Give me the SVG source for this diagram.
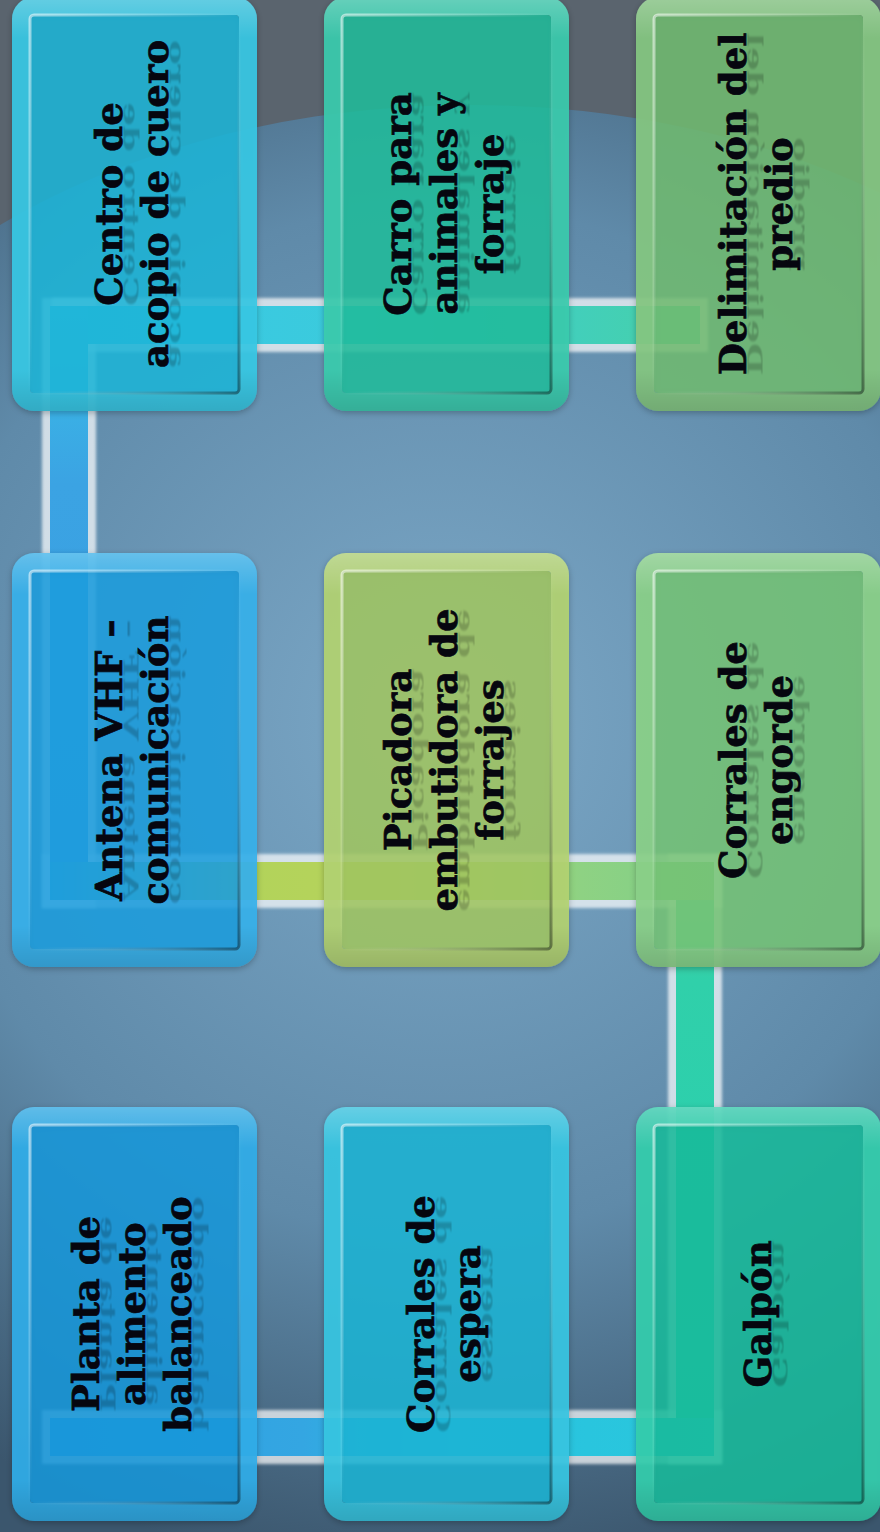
<svg xmlns="http://www.w3.org/2000/svg" xmlns:xlink="http://www.w3.org/1999/xlink" width="880" height="1532" viewBox="0 0 880 1532">
<defs>
<style>
.t{font-family:"DejaVu Serif","Liberation Serif",serif;font-weight:bold;font-size:37px;fill:#06060f;stroke:#06060f;stroke-width:.7;text-anchor:middle}
.r{font-family:"DejaVu Serif","Liberation Serif",serif;font-weight:bold;font-size:37px;fill:#000;fill-opacity:.2;text-anchor:middle;filter:url(#blur)}
.fillin{fill-opacity:.88}
.rimc{fill-opacity:.92}
.edge{fill:#ffffff;fill-opacity:.7;filter:url(#soft)}
</style>
<radialGradient id="bg" gradientUnits="userSpaceOnUse" cx="440" cy="720" r="860">
<stop offset="0" stop-color="#7ca8c7"/>
<stop offset="0.6" stop-color="#5f8aa9"/>
<stop offset="1" stop-color="#3b566d"/>
</radialGradient>
<linearGradient id="bev" x1="0" y1="0" x2="1" y2="1">
<stop offset="0" stop-color="#ffffff" stop-opacity=".55"/>
<stop offset=".5" stop-color="#ffffff" stop-opacity="0"/>
<stop offset="1" stop-color="#000000" stop-opacity=".4"/>
</linearGradient>
<linearGradient id="rimShade" x1="0" y1="0" x2="0" y2="1">
<stop offset="0" stop-color="#ffffff" stop-opacity=".22"/>
<stop offset=".1" stop-color="#ffffff" stop-opacity="0"/>
<stop offset=".9" stop-color="#000000" stop-opacity="0"/>
<stop offset="1" stop-color="#000000" stop-opacity=".12"/>
</linearGradient>
<linearGradient id="gA" gradientUnits="userSpaceOnUse" x1="60" y1="0" x2="700" y2="0">
<stop offset="0" stop-color="#37c6e8"/>
<stop offset=".45" stop-color="#3bcbdc"/>
<stop offset="1" stop-color="#46d1a8"/>
</linearGradient>
<linearGradient id="gB" gradientUnits="userSpaceOnUse" x1="0" y1="306" x2="0" y2="900">
<stop offset="0" stop-color="#39c2e8"/>
<stop offset=".3" stop-color="#3ba3e3"/>
<stop offset="1" stop-color="#389ee0"/>
</linearGradient>
<linearGradient id="gC" gradientUnits="userSpaceOnUse" x1="50" y1="0" x2="714" y2="0">
<stop offset="0" stop-color="#36a8d8"/>
<stop offset=".28" stop-color="#b2d35a"/>
<stop offset=".5" stop-color="#b6d35c"/>
<stop offset=".8" stop-color="#8ed283"/>
<stop offset="1" stop-color="#80cf88"/>
</linearGradient>
<linearGradient id="gD" gradientUnits="userSpaceOnUse" x1="0" y1="862" x2="0" y2="1456">
<stop offset="0" stop-color="#5fd29c"/>
<stop offset=".2" stop-color="#30d0aa"/>
<stop offset="1" stop-color="#26ceb2"/>
</linearGradient>
<linearGradient id="gE" gradientUnits="userSpaceOnUse" x1="50" y1="0" x2="714" y2="0">
<stop offset="0" stop-color="#2a9ee2"/>
<stop offset=".38" stop-color="#34a6e2"/>
<stop offset=".62" stop-color="#28c2e0"/>
<stop offset="1" stop-color="#2ac8dc"/>
</linearGradient>
<filter id="soft" x="-10%" y="-10%" width="120%" height="120%">
<feGaussianBlur stdDeviation="1.4"/>
</filter>
<filter id="blur" x="-5%" y="-20%" width="110%" height="140%">
<feGaussianBlur stdDeviation="0.8"/>
</filter>
<filter id="sh" x="-10%" y="-10%" width="120%" height="120%">
<feDropShadow dx="0" dy="2" stdDeviation="3" flood-color="#000" flood-opacity=".28"/>
</filter>
<path id="rim" fill-rule="evenodd" d="M22 0 H223 A22 22 0 0 1 245 22 V392 A22 22 0 0 1 223 414 H22 A22 22 0 0 1 0 392 V22 A22 22 0 0 1 22 0 Z M22 18 H223 A4 4 0 0 1 227 22 V392 A4 4 0 0 1 223 396 H22 A4 4 0 0 1 18 392 V22 A4 4 0 0 1 22 18 Z"/>
<rect id="in" x="18" y="18" width="209" height="378" rx="4"/>
</defs>

<g id="background">
<rect x="0" y="0" width="880" height="1532" fill="url(#bg)"/>
<path d="M0 0 H880 V193 A720 495 0 0 0 0 225 Z" fill="#5a646e"/>
</g>

<g id="connectors">
<rect class="edge" x="52" y="298" width="656" height="54"/>
<rect class="edge" x="42" y="298" width="54" height="610"/>
<rect class="edge" x="42" y="854" width="680" height="54"/>
<rect class="edge" x="668" y="854" width="54" height="610"/>
<rect class="edge" x="42" y="1410" width="680" height="54"/>
<rect x="60" y="306" width="640" height="38" fill="url(#gA)"/>
<rect x="50" y="306" width="38" height="594" fill="url(#gB)"/>
<rect x="676" y="862" width="38" height="594" fill="url(#gD)"/>
<rect x="50" y="862" width="664" height="38" fill="url(#gC)"/>
<rect x="50" y="1418" width="664" height="38" fill="url(#gE)"/>
</g>

<g id="n1" transform="translate(12,-3)">
<use href="#rim" class="rimc" fill="#38c8e4" filter="url(#sh)"/>
<use href="#rim" fill="url(#rimShade)"/>
<use href="#in" class="fillin" fill="#1db4d6"/>
<use href="#in" fill="none" stroke="url(#bev)" stroke-width="3"/>
<g transform="translate(122.5,207) rotate(-90)">
<text class="r" transform="translate(0,-11) scale(1,-0.55)">Centro de</text>
<text class="r" transform="translate(0,35) scale(1,-0.55)">acopio de cuero</text>
<text class="t"><tspan x="0" y="-13">Centro de</tspan><tspan x="0" y="33">acopio de cuero</tspan></text>
</g>
</g>

<g id="n2" transform="translate(324,-3)">
<use href="#rim" class="rimc" fill="#3acbad" filter="url(#sh)"/>
<use href="#rim" fill="url(#rimShade)"/>
<use href="#in" class="fillin" fill="#20bb9a"/>
<use href="#in" fill="none" stroke="url(#bev)" stroke-width="3"/>
<g transform="translate(122.5,207) rotate(-90)">
<text class="r" transform="translate(0,-34) scale(1,-0.55)">Carro para</text>
<text class="r" transform="translate(0,12) scale(1,-0.55)">animales y</text>
<text class="r" transform="translate(0,58) scale(1,-0.55)">forraje</text>
<text class="t"><tspan x="0" y="-36">Carro para</tspan><tspan x="0" y="10">animales y</tspan><tspan x="0" y="56">forraje</tspan></text>
</g>
</g>

<g id="n3" transform="translate(636,-3)">
<use href="#rim" class="rimc" fill="#84c781" filter="url(#sh)"/>
<use href="#rim" fill="url(#rimShade)"/>
<use href="#in" class="fillin" fill="#70ba70"/>
<use href="#in" fill="none" stroke="url(#bev)" stroke-width="3"/>
<g transform="translate(122.5,207) rotate(-90)">
<text class="r" transform="translate(0,-11) scale(1,-0.55)">Delimitación del</text>
<text class="r" transform="translate(0,35) scale(1,-0.55)">predio</text>
<text class="t"><tspan x="0" y="-13">Delimitación del</tspan><tspan x="0" y="33">predio</tspan></text>
</g>
</g>

<g id="n4" transform="translate(12,553)">
<use href="#rim" class="rimc" fill="#36b1ea" filter="url(#sh)"/>
<use href="#rim" fill="url(#rimShade)"/>
<use href="#in" class="fillin" fill="#1b9cdc"/>
<use href="#in" fill="none" stroke="url(#bev)" stroke-width="3"/>
<g transform="translate(122.5,207) rotate(-90)">
<text class="r" transform="translate(0,-11) scale(1,-0.55)">Antena VHF –</text>
<text class="r" transform="translate(0,35) scale(1,-0.55)">comunicación</text>
<text class="t"><tspan x="0" y="-13">Antena VHF –</tspan><tspan x="0" y="33">comunicación</tspan></text>
</g>
</g>

<g id="n5" transform="translate(324,553)">
<use href="#rim" class="rimc" fill="#b2d372" filter="url(#sh)"/>
<use href="#rim" fill="url(#rimShade)"/>
<use href="#in" class="fillin" fill="#9fc460"/>
<use href="#in" fill="none" stroke="url(#bev)" stroke-width="3"/>
<g transform="translate(122.5,207) rotate(-90)">
<text class="r" transform="translate(0,-34) scale(1,-0.55)">Picadora</text>
<text class="r" transform="translate(0,12) scale(1,-0.55)">embutidora de</text>
<text class="r" transform="translate(0,58) scale(1,-0.55)">forrajes</text>
<text class="t"><tspan x="0" y="-36">Picadora</tspan><tspan x="0" y="10">embutidora de</tspan><tspan x="0" y="56">forrajes</tspan></text>
</g>
</g>

<g id="n6" transform="translate(636,553)">
<use href="#rim" class="rimc" fill="#8ad088" filter="url(#sh)"/>
<use href="#rim" fill="url(#rimShade)"/>
<use href="#in" class="fillin" fill="#74c174"/>
<use href="#in" fill="none" stroke="url(#bev)" stroke-width="3"/>
<g transform="translate(122.5,207) rotate(-90)">
<text class="r" transform="translate(0,-11) scale(1,-0.55)">Corrales de</text>
<text class="r" transform="translate(0,35) scale(1,-0.55)">engorde</text>
<text class="t"><tspan x="0" y="-13">Corrales de</tspan><tspan x="0" y="33">engorde</tspan></text>
</g>
</g>

<g id="n7" transform="translate(12,1107)">
<use href="#rim" class="rimc" fill="#30ace8" filter="url(#sh)"/>
<use href="#rim" fill="url(#rimShade)"/>
<use href="#in" class="fillin" fill="#1796d8"/>
<use href="#in" fill="none" stroke="url(#bev)" stroke-width="3"/>
<g transform="translate(122.5,207) rotate(-90)">
<text class="r" transform="translate(0,-34) scale(1,-0.55)">Planta de</text>
<text class="r" transform="translate(0,12) scale(1,-0.55)">alimento</text>
<text class="r" transform="translate(0,58) scale(1,-0.55)">balanceado</text>
<text class="t"><tspan x="0" y="-36">Planta de</tspan><tspan x="0" y="10">alimento</tspan><tspan x="0" y="56">balanceado</tspan></text>
</g>
</g>

<g id="n8" transform="translate(324,1107)">
<use href="#rim" class="rimc" fill="#38c6e2" filter="url(#sh)"/>
<use href="#rim" fill="url(#rimShade)"/>
<use href="#in" class="fillin" fill="#1bb3d3"/>
<use href="#in" fill="none" stroke="url(#bev)" stroke-width="3"/>
<g transform="translate(122.5,207) rotate(-90)">
<text class="r" transform="translate(0,-11) scale(1,-0.55)">Corrales de</text>
<text class="r" transform="translate(0,35) scale(1,-0.55)">espera</text>
<text class="t"><tspan x="0" y="-13">Corrales de</tspan><tspan x="0" y="33">espera</tspan></text>
</g>
</g>

<g id="n9" transform="translate(636,1107)">
<use href="#rim" class="rimc" fill="#33cdad" filter="url(#sh)"/>
<use href="#rim" fill="url(#rimShade)"/>
<use href="#in" class="fillin" fill="#18b99a"/>
<use href="#in" fill="none" stroke="url(#bev)" stroke-width="3"/>
<g transform="translate(122.5,207) rotate(-90)">
<text class="r" transform="translate(0,14) scale(1,-0.55)">Galpón</text>
<text class="t"><tspan x="0" y="12">Galpón</tspan></text>
</g>
</g>
</svg>
